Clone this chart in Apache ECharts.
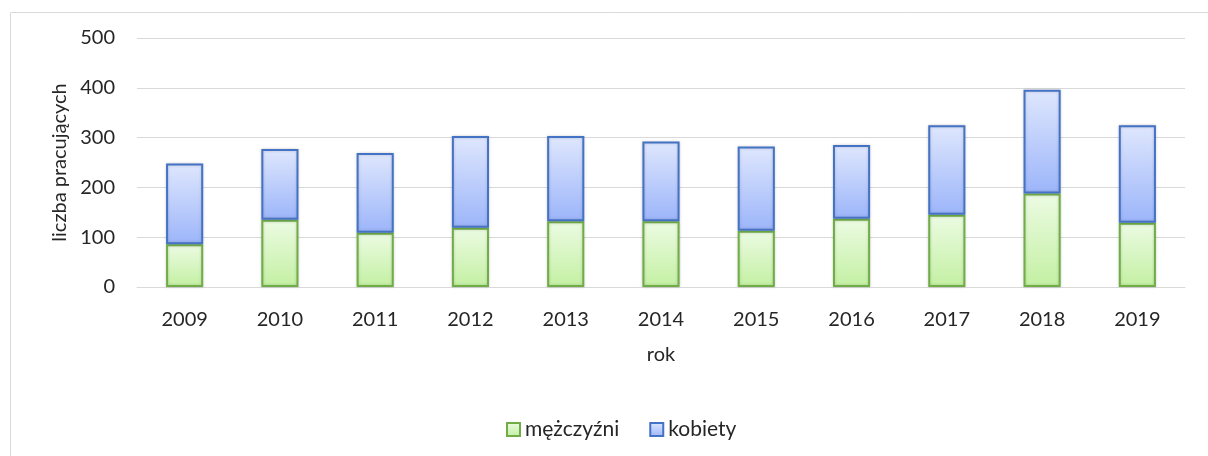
<!DOCTYPE html>
<html>
<head>
<meta charset="utf-8">
<script src="https://cdn.jsdelivr.net/npm/echarts@6/dist/echarts.min.js"></script>
<style>
  html, body { margin: 0; padding: 0; background: #ffffff; }
  #main { width: 1208px; height: 456px; }
</style>
</head>
<body>
<div id="main"></div>
<script>
// dane
var lata = ["2009", "2010", "2011", "2012", "2013", "2014", "2015", "2016", "2017", "2018", "2019"];
var mezczyzni = [86, 135, 109, 119, 132, 132, 113, 137, 145, 188, 129];
var kobiety = [162, 142, 160, 184, 171, 160, 169, 148, 180, 208, 196];

var chartDom = document.getElementById("main");
var myChart = echarts.init(chartDom);
var font = "Lato, 'Open Sans', sans-serif";

var zielony = new echarts.graphic.LinearGradient(0, 0, 0, 1, [
  { offset: 0, color: "#ecfbe3" },
  { offset: 1, color: "#c3f0a2" },
]);
var niebieski = new echarts.graphic.LinearGradient(0, 0, 0, 1, [
  { offset: 0, color: "#dfe7fd" },
  { offset: 1, color: "#9cb5fa" },
]);

var option = {
  animation: false,
  textStyle: { fontFamily: font },
  graphic: [
    {
      type: "rect",
      left: 8,
      top: 10,
      shape: { width: 1260, height: 500 },
      style: { fill: "none", stroke: "#d9d9d9", lineWidth: 1 },
    },
  ],
  grid: { left: 137, right: 23, top: 38, bottom: 169 },
  legend: {
    left: 501,
    top: 414,
    icon: "rect",
    itemWidth: 13,
    itemHeight: 13,
    itemGap: 30,
    textStyle: { fontSize: 21, color: "#262626", fontFamily: font },
    data: ["mężczyźni", "kobiety"],
  },
  xAxis: {
    type: "category",
    data: lata,
    name: "rok",
    nameLocation: "middle",
    nameGap: 58,
    nameTextStyle: { fontSize: 20, color: "#262626" },
    axisLine: { lineStyle: { color: "#d9d9d9" } },
    axisTick: { show: false },
    axisLabel: { fontSize: 20, color: "#262626", margin: 23 },
  },
  yAxis: {
    type: "value",
    min: 0,
    max: 500,
    interval: 100,
    name: "liczba pracujących",
    nameLocation: "middle",
    nameGap: 67,
    nameTextStyle: { fontSize: 20, color: "#262626" },
    axisLine: { show: false },
    axisTick: { show: false },
    axisLabel: { fontSize: 20, color: "#262626", margin: 22 },
    splitLine: { lineStyle: { color: "#d9d9d9" } },
  },
  series: [
    {
      name: "mężczyźni",
      type: "bar",
      stack: "razem",
      barWidth: "39%",
      data: mezczyzni,
      itemStyle: {
        color: zielony,
        borderColor: "#70ad47",
        borderWidth: 2,
        shadowColor: "rgba(0,0,0,0.18)",
        shadowBlur: 3,
      },
    },
    {
      name: "kobiety",
      type: "bar",
      stack: "razem",
      data: kobiety,
      itemStyle: {
        color: niebieski,
        borderColor: "#4472c4",
        borderWidth: 2,
        shadowColor: "rgba(0,0,0,0.18)",
        shadowBlur: 3,
      },
    },
  ],
};
myChart.setOption(option);
</script>
</body>
</html>
